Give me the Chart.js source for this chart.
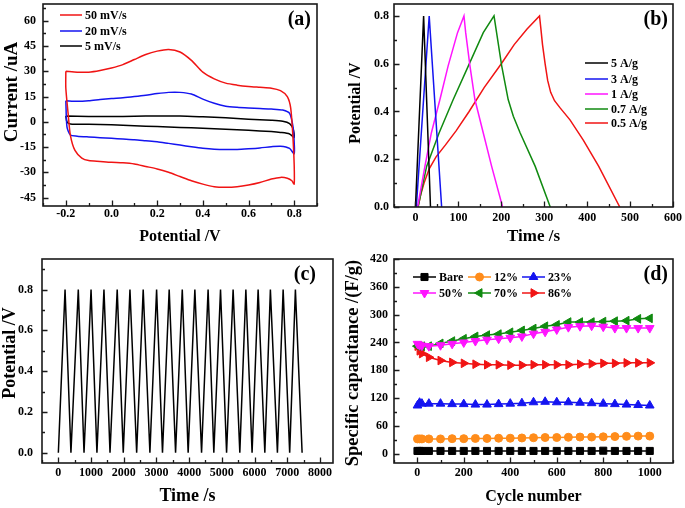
<!DOCTYPE html>
<html>
<head>
<meta charset="utf-8">
<script src="https://cdn.jsdelivr.net/npm/chart.js@4/dist/chart.umd.min.js"></script>
<style>
body { margin: 0; background: #fff; width: 685px; height: 508px; overflow: hidden; position: relative; }
canvas { position: absolute; }
</style>
</head>
<body>
<canvas id="chartA" width="335" height="250" style="left:0px;top:0px"></canvas>
<canvas id="chartB" width="345" height="250" style="left:340px;top:0px"></canvas>
<canvas id="chartC" width="345" height="258" style="left:0px;top:250px"></canvas>
<canvas id="chartD" width="345" height="258" style="left:340px;top:250px"></canvas>
<script>
var FONT = '"Liberation Serif", "Times New Roman", serif';

// ---- (a) cyclic voltammetry ----
var aNames = ["50 mV/s", "20 mV/s", "5 mV/s"];
var aRedV = [-0.2, -0.15, -0.1, -0.05, 0, 0.05, 0.1, 0.15, 0.2, 0.25, 0.3, 0.35, 0.4, 0.45, 0.5, 0.55, 0.6, 0.65, 0.7, 0.74, 0.77, 0.785, 0.795, 0.8, 0.8,
             0.79, 0.77, 0.74, 0.7, 0.65, 0.6, 0.55, 0.5, 0.45, 0.4, 0.35, 0.3, 0.25, 0.2, 0.15, 0.1, 0.05, 0, -0.05, -0.1, -0.13, -0.16, -0.18, -0.19, -0.2, -0.2];
var aRedI = [30, 29.5, 29.5, 30.5, 32, 34, 37, 40, 42, 43, 41.5, 36.5, 29.5, 25.5, 23, 21.8, 21, 20.5, 20, 18.5, 15, 8, -10, -25, -37,
             -35, -33.5, -33, -34, -36, -37.5, -38.5, -38.8, -38.5, -37, -35, -32.5, -30, -28, -26.5, -25, -24.3, -24, -23.5, -23, -21.5, -17, -8, 5, 20, 30];
var aBlueV = [-0.2, -0.15, -0.1, -0.05, 0, 0.05, 0.1, 0.15, 0.2, 0.25, 0.3, 0.35, 0.4, 0.45, 0.5, 0.55, 0.6, 0.65, 0.7, 0.75, 0.78, 0.795, 0.8, 0.8,
              0.78, 0.74, 0.7, 0.65, 0.6, 0.55, 0.5, 0.45, 0.4, 0.35, 0.3, 0.25, 0.2, 0.15, 0.1, 0.05, 0, -0.05, -0.1, -0.15, -0.18, -0.195, -0.2];
var aBlueI = [12.5, 12.2, 12.5, 13.2, 13.8, 14.3, 15, 15.8, 16.8, 17.5, 17.5, 16.5, 13.5, 11, 9.3, 8.6, 8.2, 7.9, 7.6, 7, 5, -3, -12, -19,
              -15.8, -14.5, -14.8, -15.5, -16, -16.4, -16.5, -16.3, -15.7, -14.8, -13.8, -12.8, -11.8, -11.2, -10.6, -10.2, -9.8, -9.4, -9, -8.5, -7.8, -3, 12.5];
var aBlackV = [-0.2, -0.1, 0, 0.1, 0.2, 0.3, 0.4, 0.5, 0.6, 0.7, 0.75, 0.78, 0.795, 0.8,
               0.78, 0.74, 0.7, 0.6, 0.5, 0.4, 0.3, 0.2, 0.1, 0, -0.1, -0.18, -0.195, -0.2];
var aBlackI = [3.5, 3.2, 3.2, 3.3, 3.5, 3.5, 3, 2.4, 1.6, 0.9, 0.3, -1, -4, -9.2,
               -7.2, -6.3, -5.8, -5, -4.4, -3.8, -3.3, -2.8, -2.3, -1.8, -1.5, -1.3, 0, 3.5];
var aXTicks = [-0.2, 0, 0.2, 0.4, 0.6, 0.8];
var aYTicks = [-45, -30, -15, 0, 15, 30, 45, 60];

// ---- (b) charge / discharge at different currents ----
var bNames = ["5 A/g", "3 A/g", "1 A/g", "0.7 A/g", "0.5 A/g"];
var bT5 = [0, 19, 35];
var bV5 = [0, 0.8, 0];
var bT3 = [2, 32, 61];
var bV3 = [0, 0.8, 0];
var bT1 = [5, 22, 37, 57, 76, 98, 113, 117, 127, 138.5, 158, 177.5, 203];
var bV1 = [0, 0.17, 0.31, 0.45, 0.59, 0.73, 0.8, 0.73, 0.59, 0.45, 0.31, 0.17, 0];
var bT07 = [6, 26, 55, 88, 123, 158, 183, 189, 201, 216, 228, 244, 279, 314];
var bV07 = [0, 0.17, 0.31, 0.45, 0.59, 0.73, 0.8, 0.73, 0.59, 0.45, 0.38, 0.31, 0.17, 0];
var bT05 = [6, 12, 20, 32, 48, 70, 95, 125, 160, 200, 230, 260, 289,
            292, 296, 302, 308, 315, 324, 337, 360, 391, 427, 476];
var bV05 = [0, 0.05, 0.1, 0.16, 0.21, 0.26, 0.32, 0.4, 0.5, 0.6, 0.68, 0.745, 0.8,
            0.75, 0.68, 0.6, 0.53, 0.48, 0.445, 0.415, 0.365, 0.28, 0.17, 0];
var bXTicks = [0, 100, 200, 300, 400, 500, 600];
var bYTicks = [0, 0.2, 0.4, 0.6, 0.8];

// ---- (c) cycling charge / discharge ----
var cTime = [0, 205, 385, 610, 785, 1000, 1180, 1395, 1580, 1800, 1985, 2190, 2395, 2595, 2800, 3005, 3185, 3390, 3585,
             3790, 3970, 4175, 4380, 4580, 4755, 4960, 5145, 5345, 5550, 5735, 5925, 6110, 6315, 6485, 6700, 6875, 7075, 7250, 7455];
var cVolt = [0, 0.8, 0, 0.8, 0, 0.8, 0, 0.8, 0, 0.8, 0, 0.8, 0, 0.8, 0, 0.8, 0, 0.8, 0,
             0.8, 0, 0.8, 0, 0.8, 0, 0.8, 0, 0.8, 0, 0.8, 0, 0.8, 0, 0.8, 0, 0.8, 0, 0.8, 0];
var cXTicks = [0, 1000, 2000, 3000, 4000, 5000, 6000, 7000, 8000];
var cYTicks = [0, 0.2, 0.4, 0.6, 0.8];

// ---- (d) specific capacitance vs cycle ----
var dNames = ["Bare", "12%", "23%", "50%", "70%", "86%"];
var dCycles = [1, 10, 20, 50, 100, 150, 200, 250, 300, 350, 400, 450, 500, 550, 600, 650, 700, 750, 800, 850, 900, 950, 1000];
var dBare = [6, 6, 6, 6, 6, 6, 6, 6, 6, 6, 6, 6, 6, 6, 6, 6, 6, 6, 6.5, 6, 6, 6, 6];
var d12 = [32, 32, 32, 32, 32, 32.5, 32.5, 33, 33, 33.5, 33.5, 34, 34.5, 35, 35, 35.5, 36, 36, 36.5, 37, 37.5, 38, 38];
var d23 = [104, 110, 108, 108, 108, 107, 107, 106, 106, 107, 108, 109, 111, 112, 111, 111, 110, 109, 108, 107, 106, 105, 104];
var d50 = [237, 234, 233, 232, 234, 237, 240, 243, 246, 248, 250, 253, 259, 263, 268, 273, 275, 276, 274, 271, 271, 271, 271];
var d70 = [232, 232, 232, 232, 238, 243, 248, 253, 256, 258, 262, 266, 270, 275, 278, 284, 284, 284, 285, 286, 287, 291, 292];
var d86 = [232, 222, 216, 208, 201, 197, 195, 193, 192, 192, 191, 191, 192, 192, 192, 192, 193, 194, 195, 195, 196, 196, 196];
var dXTicks = [0, 200, 400, 600, 800, 1000];
var dYTicks = [0, 60, 120, 180, 240, 300, 360, 420];

function pts(xs, ys) {
  var out = [];
  for (var i = 0; i < xs.length; i++) out.push({x: xs[i], y: ys[i]});
  return out;
}

function marker(ctx, style, rot, r, x, y) {
  ctx.beginPath();
  if (style == 'circle') {
    ctx.arc(x, y, r, 0, Math.PI * 2);
  } else if (style == 'rect') {
    var s = r * Math.SQRT1_2;
    ctx.rect(x - s, y - s, 2 * s, 2 * s);
  } else {
    var ang = rot * Math.PI / 180;
    for (var k = 0; k < 3; k++) {
      var t = ang + k * 2 * Math.PI / 3;
      ctx.lineTo(x + Math.sin(t) * r, y - Math.cos(t) * r);
    }
    ctx.closePath();
  }
  ctx.fill();
  ctx.stroke();
}

// frame, inward ticks, y title, panel letter and legend
var deco = {
  id: 'deco',
  afterDraw: function(chart, args, o) {
    var ctx = chart.ctx, a = chart.chartArea;
    var xs = chart.scales.x, ys = chart.scales.y;
    var v, p;
    ctx.save();
    ctx.strokeStyle = '#1a1a1a';
    ctx.lineWidth = 1.3;
    ctx.beginPath();
    for (v = o.xMinor[0]; v <= o.xMinor[1] + 1e-9; v += o.xMinor[2]) {
      p = Math.round(xs.getPixelForValue(v)) + 0.5;
      ctx.moveTo(p, a.bottom); ctx.lineTo(p, a.bottom - 3);
    }
    for (v = o.yMinor[0]; v <= o.yMinor[1] + 1e-9; v += o.yMinor[2]) {
      p = Math.round(ys.getPixelForValue(v)) + 0.5;
      ctx.moveTo(a.left, p); ctx.lineTo(a.left + 3, p);
    }
    xs.ticks.forEach(function(t) {
      p = Math.round(xs.getPixelForValue(t.value)) + 0.5;
      ctx.moveTo(p, a.bottom); ctx.lineTo(p, a.bottom - 5.5);
    });
    ys.ticks.forEach(function(t) {
      p = Math.round(ys.getPixelForValue(t.value)) + 0.5;
      ctx.moveTo(a.left, p); ctx.lineTo(a.left + 5.5, p);
    });
    ctx.stroke();
    ctx.lineWidth = 1.6;
    ctx.strokeRect(a.left, a.top, a.right - a.left, a.bottom - a.top);

    ctx.fillStyle = '#000';
    ctx.textBaseline = 'middle';
    ctx.textAlign = 'center';
    ctx.font = 'bold ' + o.yTitle.size + 'px ' + FONT;
    ctx.save();
    ctx.translate(o.yTitle.x, o.yTitle.y);
    ctx.rotate(-Math.PI / 2);
    ctx.fillText(o.yTitle.text, 0, 0);
    ctx.restore();

    ctx.font = 'bold 20px ' + FONT;
    ctx.textAlign = 'right';
    ctx.fillText(o.label, o.labelPos[0], o.labelPos[1]);

    ctx.font = 'bold 12px ' + FONT;
    ctx.textAlign = 'left';
    chart.data.datasets.forEach(function(ds, i) {
      var lp = o.legendPos[i];
      if (!lp) return;
      ctx.strokeStyle = ds.borderColor;
      ctx.lineWidth = 1.5;
      ctx.beginPath();
      ctx.moveTo(lp[0], lp[1]);
      ctx.lineTo(lp[0] + o.legendLen, lp[1]);
      ctx.stroke();
      if (ds.pointRadius > 0) {
        ctx.fillStyle = ds.pointBackgroundColor;
        ctx.lineWidth = 1;
        marker(ctx, ds.pointStyle, ds.pointRotation || 0, ds.pointRadius, lp[0] + o.legendLen / 2, lp[1]);
      }
      ctx.fillStyle = '#000';
      ctx.fillText(ds.label, lp[0] + o.legendLen + 3, lp[1] + 0.5);
    });
    ctx.restore();
  }
};

// x axis gets a library title, y axis title is placed by the deco plugin
function axis(min, max, majors, fmt, title, titleSize, size, tickPad, titlePad) {
  return {
    type: 'linear',
    min: min,
    max: max,
    grid: {display: false, drawTicks: false},
    border: {display: false},
    ticks: {
      color: '#000',
      font: {family: FONT, size: 12, weight: 'bold'},
      padding: tickPad,
      autoSkip: false,
      maxRotation: 0,
      callback: fmt
    },
    afterBuildTicks: function(s) {
      s.ticks = majors.map(function(m) { return {value: m}; });
    },
    afterFit: function(s) {
      if (s.isHorizontal()) s.height = size; else s.width = size;
      s.paddingLeft = 0; s.paddingRight = 0; s.paddingTop = 0; s.paddingBottom = 0;
    },
    title: {
      display: !!title,
      text: title,
      color: '#000',
      font: {family: FONT, size: titleSize, weight: 'bold'},
      padding: {top: titlePad, bottom: titlePad}
    }
  };
}

var fix1 = function(v) { return v.toFixed(1); };
var fix0 = function(v) { return String(v); };

function makeChart(id, datasets, pad, xAxis, yAxis, decoOpts) {
  return new Chart(document.getElementById(id), {
    type: 'scatter',
    data: {datasets: datasets},
    options: {
      responsive: false,
      animation: false,
      events: [],
      layout: {padding: pad},
      plugins: {legend: {display: false}, tooltip: {enabled: false}, deco: decoOpts},
      scales: {x: xAxis, y: yAxis}
    },
    plugins: [deco]
  });
}

function lineSet(name, xs, ys, color, tension) {
  return {label: name, data: pts(xs, ys), showLine: true, borderColor: color, borderWidth: 1.5,
          pointRadius: 0, tension: tension, fill: false};
}

// (a)
makeChart('chartA', [
  lineSet(aNames[0], aRedV, aRedI, '#f01414', 0.25),
  lineSet(aNames[1], aBlueV, aBlueI, '#1414f0', 0.25),
  lineSet(aNames[2], aBlackV, aBlackI, '#000000', 0.25)
], {left: 0, top: 4, right: 18, bottom: 0},
  axis(-0.3, 0.9, aXTicks, fix1, 'Potential /V', 16, 44, 1, 3.4),
  axis(-50, 70, aYTicks, fix0, '', 16, 43, 7, 0),
  {label: '(a)', labelPos: [311, 20], xMinor: [-0.3, 0.9, 0.1], yMinor: [-45, 67.5, 7.5],
   yTitle: {text: 'Current /uA', size: 19, x: 12, y: 92},
   legendPos: [[60, 15], [60, 31], [60, 46]], legendLen: 22});

// (b)
makeChart('chartB', [
  lineSet(bNames[0], bT5, bV5, '#000000', 0),
  lineSet(bNames[1], bT3, bV3, '#1414f0', 0),
  lineSet(bNames[2], bT1, bV1, '#ff14ff', 0),
  lineSet(bNames[3], bT07, bV07, '#108a10', 0),
  lineSet(bNames[4], bT05, bV05, '#f01414', 0)
], {left: 0, top: 4, right: 12, bottom: 0},
  axis(-50, 600, bXTicks, fix0, 'Time /s', 17, 43, 4, 3),
  axis(0, 0.85, bYTicks, fix1, '', 16, 54, 5, 0),
  {label: '(b)', labelPos: [328, 20], xMinor: [-50, 600, 50], yMinor: [0, 0.85, 0.1],
   yTitle: {text: 'Potential /V', size: 16, x: 16, y: 103},
   legendPos: [[245, 63], [245, 79], [245, 94], [245, 109], [245, 123]], legendLen: 23});

// (c)
makeChart('chartC', [
  lineSet('', cTime, cVolt, '#000000', 0)
], {left: 0, top: 9, right: 12, bottom: 0},
  axis(-500, 8400, cXTicks, fix0, 'Time /s', 18, 45, 3, 1.2),
  axis(-0.05, 0.95, cYTicks, fix1, '', 16, 42, 9, 0),
  {label: '(c)', labelPos: [316, 25], xMinor: [-500, 8400, 500], yMinor: [0, 0.95, 0.1],
   yTitle: {text: 'Potential /V', size: 18, x: 10, y: 103},
   legendPos: [], legendLen: 0});

// (d)
function markSet(name, ys, color, style, rot, r) {
  return {label: name, data: pts(dCycles, ys), showLine: true, borderColor: color, borderWidth: 1.5,
          pointRadius: r, pointStyle: style, pointRotation: rot, pointBackgroundColor: color,
          pointBorderColor: color, pointBorderWidth: 1, tension: 0, fill: false};
}
makeChart('chartD', [
  markSet(dNames[0], dBare, '#000000', 'rect', 0, 5),
  markSet(dNames[1], d12, '#ff8c1a', 'circle', 0, 4),
  markSet(dNames[2], d23, '#1414f0', 'triangle', 0, 5),
  markSet(dNames[3], d50, '#ff14ff', 'triangle', 180, 5),
  markSet(dNames[4], d70, '#108a10', 'triangle', 270, 5),
  markSet(dNames[5], d86, '#f01414', 'triangle', 90, 5)
], {left: 0, top: 9, right: 12, bottom: 0},
  axis(-100, 1100, dXTicks, fix0, 'Cycle number', 16, 45, 3, 1.7),
  axis(-20, 420, dYTicks, fix0, '', 16, 54, 6, 0),
  {label: '(d)', labelPos: [328, 25], xMinor: [-100, 1100, 100], yMinor: [0, 420, 30],
   yTitle: {text: 'Specific capacitance /(F/g)', size: 18.5, x: 13, y: 113},
   legendPos: [[73, 27], [128, 27], [182, 27], [73, 43], [128, 43], [182, 43]], legendLen: 23});
</script>
</body>
</html>
